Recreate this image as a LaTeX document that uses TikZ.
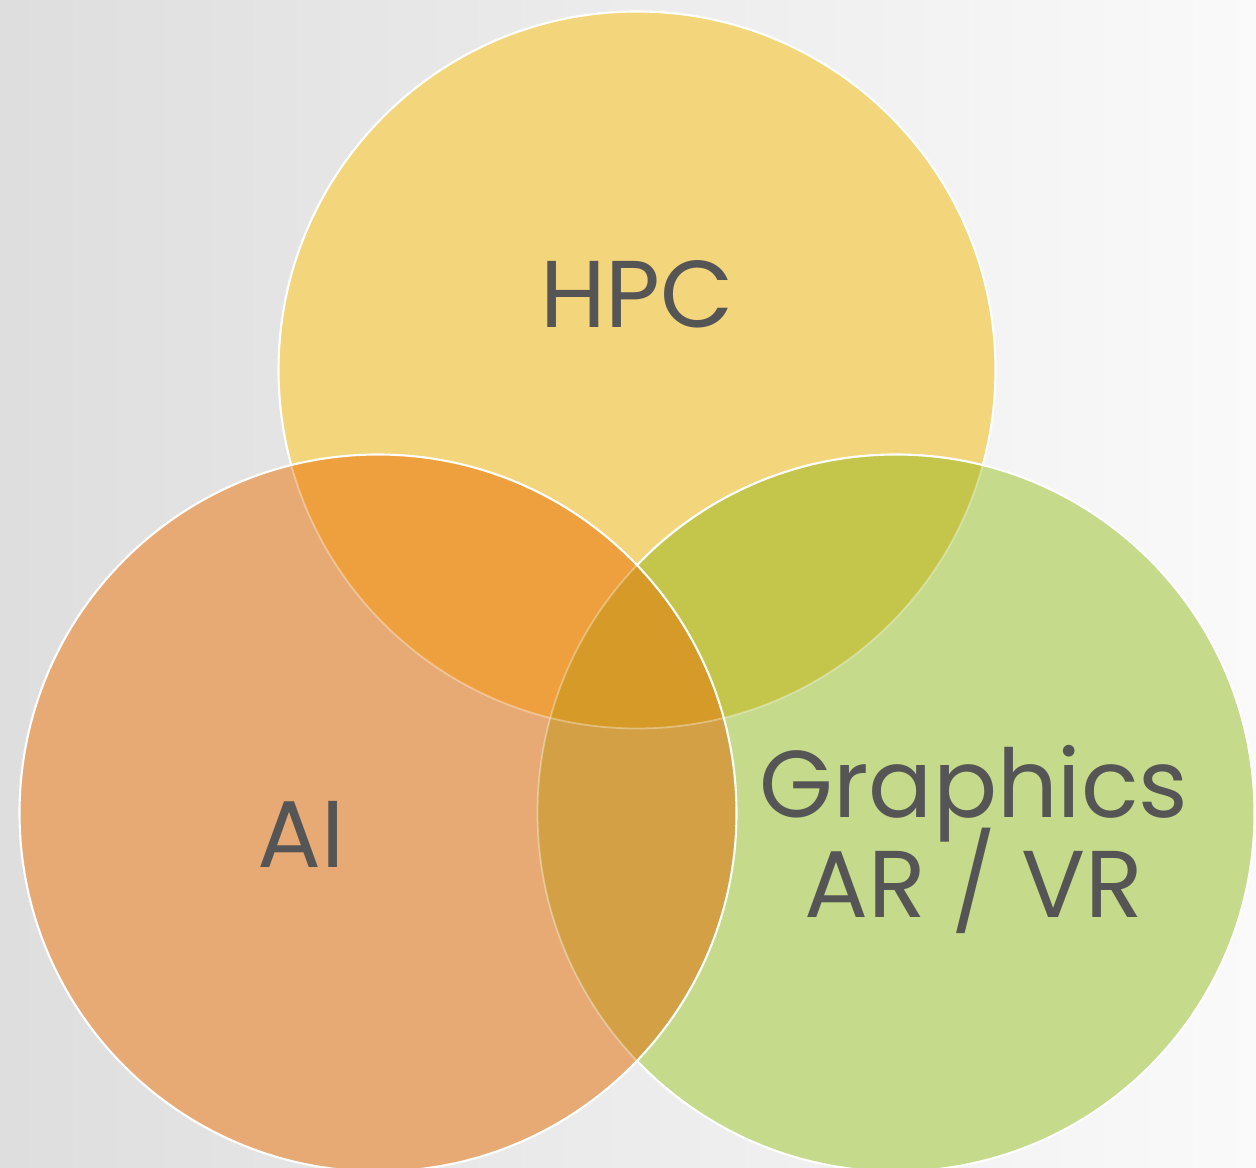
\documentclass[tikz,border=0pt]{standalone}
\usepackage{fontspec}
\setmainfont{Poppins}
\definecolor{hpcc}{HTML}{F3D57B}
\definecolor{aic}{HTML}{E8AA75}
\definecolor{grc}{HTML}{C5DA8B}
\definecolor{hpcai}{HTML}{EFA03E}
\definecolor{hpcgr}{HTML}{C4C64C}
\definecolor{aigr}{HTML}{D4A046}
\definecolor{allc}{HTML}{D69A28}
\definecolor{txt}{HTML}{555555}
\tikzset{
  lbl/.style={text=txt, font=\fontsize{54}{60}\selectfont, anchor=base, inner sep=0pt},
  rim/.style={draw=white, line width=1.2pt},
  faintrim/.style={draw=white, opacity=0.35, line width=1pt}
}
\begin{document}
\begin{tikzpicture}
\useasboundingbox (0,0) rectangle (25.12,23.36);
\shade[left color=black!13, right color=black!2] (0,0) rectangle (25.12,23.36);
\def\hpcpath{(12.74,15.96) circle (7.17)}
\def\aipath{(7.56,7.1) circle (7.17)}
\def\grpath{(17.92,7.1) circle (7.17)}
\fill[hpcc] \hpcpath;
\fill[aic] \aipath;
\fill[grc] \grpath;
\begin{scope}
  \clip \hpcpath;
  \fill[hpcai] \aipath;
  \fill[hpcgr] \grpath;
\end{scope}
\begin{scope}
  \clip \aipath;
  \fill[aigr] \grpath;
  \clip \grpath;
  \fill[allc] \hpcpath;
\end{scope}
\draw[faintrim] \hpcpath;
\draw[faintrim] \grpath;
\begin{scope}
  \clip (0,14.05) rectangle (25.12,23.36);
  \draw[rim] \hpcpath;
\end{scope}
\begin{scope}
  \clip (12.74,0) rectangle (25.12,23.36);
  \draw[rim] \grpath;
\end{scope}
\draw[rim] \aipath;
\node[lbl] (hpc) at (12.74,16.8) {HPC};
\node[lbl] (ai) at (6.02,6.0) {AI};
\node[lbl] (gr) at (19.48,7.0) {Graphics};
\node[lbl] (arvr) at (19.48,5.0) {AR / VR};
\end{tikzpicture}
\end{document}
